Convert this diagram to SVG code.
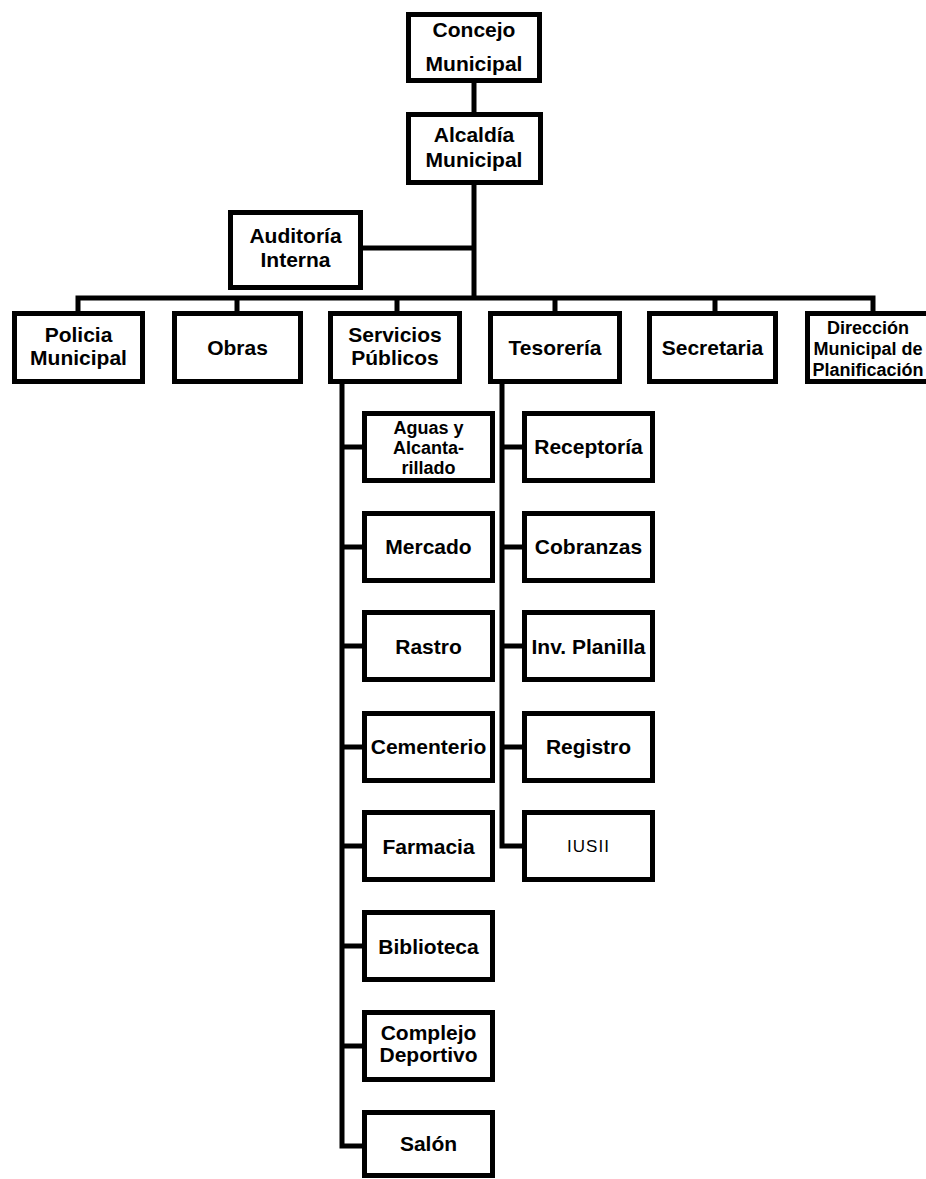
<svg xmlns="http://www.w3.org/2000/svg" width="926" height="1179" viewBox="0 0 926 1179">
<style>
.box{fill:#fff;stroke:#000;stroke-width:5}
.c{fill:none;stroke:#000;stroke-width:5;stroke-linejoin:miter;stroke-linecap:square}
text{font-family:"Liberation Sans",Arial,sans-serif;font-weight:bold;font-size:21px;fill:#000;text-anchor:middle}
.s{font-size:18px}
.t{font-size:17px;font-weight:normal;letter-spacing:1px}
</style>
<rect width="926" height="1179" fill="#fff"/>
<g id="connectors">
<path class="c" d="M474 83V112M474 185V298M363 248H474M78 311V298H873V311M237 298V311M397 298V311M555 298V311M715 298V311"/>
<path class="c" d="M342 385V1146H362M342 447H362M342 547H362M342 646H362M342 747H362M342 846H362M342 946H362M342 1046H362"/>
<path class="c" d="M502 384V846H522M502 447H522M502 547H522M502 646H522M502 747H522"/>
</g>
<g id="concejo"><rect class="box" x="408.5" y="14.5" width="131" height="66"/><text x="474" y="37">Concejo</text><text x="474" y="71">Municipal</text></g>
<g id="alcaldia"><rect class="box" x="408.5" y="114.5" width="132" height="68"/><text x="474" y="142">Alcaldía</text><text x="474" y="167">Municipal</text></g>
<g id="auditoria"><rect class="box" x="230.5" y="212.5" width="130" height="75"/><text x="295.5" y="243">Auditoría</text><text x="295.5" y="267">Interna</text></g>
<g id="policia"><rect class="box" x="14.5" y="313.5" width="128" height="68"/><text x="78.5" y="342">Policia</text><text x="78.5" y="365">Municipal</text></g>
<g id="obras"><rect class="box" x="174.5" y="313.5" width="126" height="68"/><text x="237.5" y="355">Obras</text></g>
<g id="servicios"><rect class="box" x="330.5" y="313.5" width="129" height="68"/><text x="395" y="342">Servicios</text><text x="395" y="365">Públicos</text></g>
<g id="tesoreria"><rect class="box" x="490.5" y="313.5" width="129" height="68"/><text x="555" y="355">Tesorería</text></g>
<g id="secretaria"><rect class="box" x="649.5" y="313.5" width="126" height="68"/><text x="712.5" y="355">Secretaria</text></g>
<g id="direccion"><rect class="box" x="807.5" y="313.5" width="135" height="68"/><text class="s" x="868" y="334">Dirección</text><text class="s" x="868" y="355">Municipal de</text><text class="s" x="868" y="376">Planificación</text></g>
<g id="aguas"><rect class="box" x="364.5" y="413.5" width="128" height="67"/><text class="s" x="428.5" y="434">Aguas y</text><text class="s" x="428.5" y="454">Alcanta-</text><text class="s" x="428.5" y="474">rillado</text></g>
<g id="mercado"><rect class="box" x="364.5" y="513.5" width="128" height="67"/><text x="428.5" y="554">Mercado</text></g>
<g id="rastro"><rect class="box" x="364.5" y="612.5" width="128" height="67"/><text x="428.5" y="654">Rastro</text></g>
<g id="cementerio"><rect class="box" x="364.5" y="713.5" width="128" height="67"/><text x="428.5" y="754">Cementerio</text></g>
<g id="farmacia"><rect class="box" x="364.5" y="812.5" width="128" height="67"/><text x="428.5" y="854">Farmacia</text></g>
<g id="biblioteca"><rect class="box" x="364.5" y="912.5" width="128" height="67"/><text x="428.5" y="954">Biblioteca</text></g>
<g id="complejo"><rect class="box" x="364.5" y="1012.5" width="128" height="67"/><text x="428.5" y="1040">Complejo</text><text x="428.5" y="1062">Deportivo</text></g>
<g id="salon"><rect class="box" x="364.5" y="1112.5" width="128" height="63"/><text x="428.5" y="1151">Salón</text></g>
<g id="receptoria"><rect class="box" x="524.5" y="413.5" width="128" height="67"/><text x="588.5" y="454">Receptoría</text></g>
<g id="cobranzas"><rect class="box" x="524.5" y="513.5" width="128" height="67"/><text x="588.5" y="554">Cobranzas</text></g>
<g id="planilla"><rect class="box" x="524.5" y="612.5" width="128" height="67"/><text x="588.5" y="654">Inv. Planilla</text></g>
<g id="registro"><rect class="box" x="524.5" y="713.5" width="128" height="67"/><text x="588.5" y="754">Registro</text></g>
<g id="iusii"><rect class="box" x="524.5" y="812.5" width="128" height="67"/><text class="t" x="588.5" y="852">IUSII</text></g>
</svg>
